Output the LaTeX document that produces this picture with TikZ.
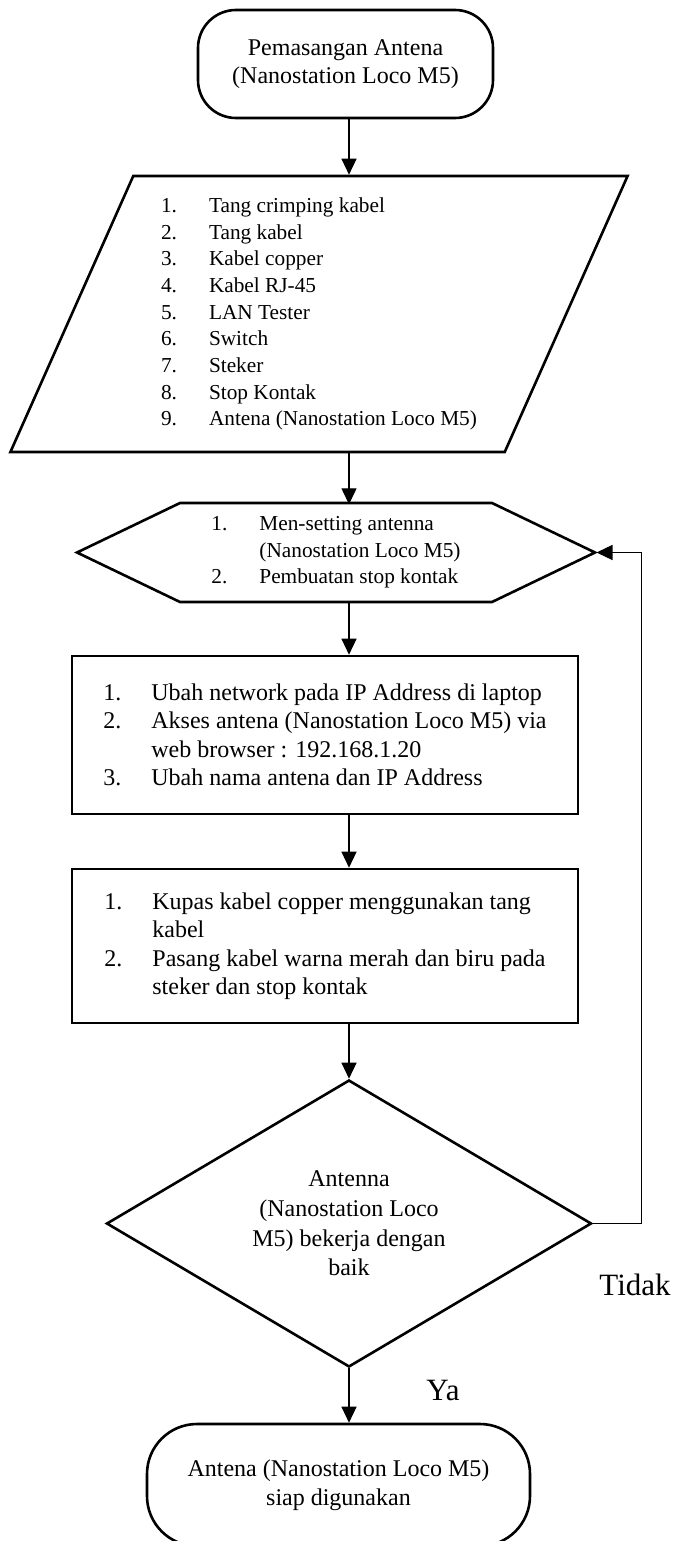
\documentclass[tikz,border=0pt]{standalone}
\usepackage{fontspec}
\setmainfont{Liberation Serif}
\usepackage{tikz}
\usetikzlibrary{positioning,calc,arrows.meta,shapes.geometric}
\newlength{\lsep}
\setlength{\lsep}{48pt}
\newcommand{\lnum}[1]{\makebox[\lsep][l]{#1}}
\newcommand{\lcont}{\hspace*{\lsep}}

\begin{document}
\begin{tikzpicture}[x=1pt,y=-1pt,
    every node/.style={font=\fontsize{24}{28.5}\selectfont},
    term/.style={draw,line width=2.6pt,rectangle,rounded corners=38pt,align=center},
    io/.style={draw,line width=2.6pt,trapezium,trapezium left angle=66,trapezium right angle=114,
        align=left,font=\fontsize{21.3}{26.7}\selectfont},
    prep/.style={rectangle,outer sep=0pt,align=left,font=\fontsize{21.3}{26.3}\selectfont},
    proc/.style={draw,line width=2.6pt,rectangle,align=left},
    dec/.style={draw,line width=2.6pt,diamond,aspect=1.69,inner sep=0pt,align=center,
        font=\fontsize{24}{29.6}\selectfont},
    arr/.style={line width=1.3pt,-{Triangle[length=16pt,width=15pt]}},
    lbl/.style={font=\fontsize{31}{36}\selectfont}]
    \useasboundingbox (0,0) rectangle (674,1541);
    \coordinate (axis) at (349,0);
    % start / input
    \node[term,minimum width=295pt,minimum height=108pt] (start) at (345.5,64)
        {Pemasangan Antena\\(Nanostation Loco M5)};
    \node[io,minimum width=618pt,minimum height=266pt] (in) at (319,314)
        {\lnum{1.}Tang crimping kabel\\\lnum{2.}Tang kabel\\\lnum{3.}Kabel copper\\
         \lnum{4.}Kabel RJ-45\\\lnum{5.}LAN Tester\\\lnum{6.}Switch\\\lnum{7.}Steker\\
         \lnum{8.}Stop Kontak\\\lnum{9.}Antena (Nanostation Loco M5)};
    % preparation (hexagon drawn round the node)
    \node[prep,minimum width=518pt,minimum height=99pt] (prep) at (336,552.5)
        {\lnum{1.}Men-setting antenna\\\lcont(Nanostation Loco M5)\\\lnum{2.}Pembuatan stop kontak};
    \draw[line width=2.6pt,line join=miter] (prep.west) -- ($(prep.north west)+(103,0)$)
        -- ($(prep.north east)+(-103,0)$) -- (prep.east)
        -- ($(prep.south east)+(-103,0)$) -- ($(prep.south west)+(103,0)$) -- cycle;
    % process boxes
    \node[proc,minimum width=506pt,minimum height=158pt] (set) at (325,735)
        {\lnum{1.}Ubah network pada IP Address di laptop\\
         \lnum{2.}Akses antena (Nanostation Loco M5) via\\\lcont web browser : 192.168.1.20\\
         \lnum{3.}Ubah nama antena dan IP Address};
    \node[proc,minimum width=506pt,minimum height=154pt] (wire) at (325,946)
        {\lnum{1.}Kupas kabel copper menggunakan tang\\\lcont kabel\\
         \lnum{2.}Pasang kabel warna merah dan biru pada\\\lcont steker dan stop kontak};
    % decision / end
    \node[dec,minimum width=485pt,minimum height=287pt] (check) at (349,1223.5)
        {Antenna\\(Nanostation Loco\\M5) bekerja dengan\\baik};
    \node[term,rounded corners=50pt,minimum width=383pt,minimum height=122pt] (stop) at (338.5,1485)
        {Antena (Nanostation Loco M5)\\siap digunakan};
    \node[lbl] (no) at (635,1285) {Tidak};
    \node[lbl] (yes) at (443,1390) {Ya};
    % arrows
    \draw[arr] (start.south -| axis) -- (in.north -| axis);
    \draw[arr] (in.south -| axis) -- ([yshift=-1.3pt]prep.north -| axis);
    \draw[arr] ([yshift=1.3pt]prep.south -| axis) -- (set.north -| axis);
    \draw[arr] (set.south -| axis) -- (wire.north -| axis);
    \draw[arr] (wire.south -| axis) -- (check.north);
    \draw[arr] (check.south) -- (stop.north -| axis);
    \draw[arr] (check.east) -- ++(49,0) |- ([xshift=1.5pt]prep.east);
\end{tikzpicture}
\end{document}
